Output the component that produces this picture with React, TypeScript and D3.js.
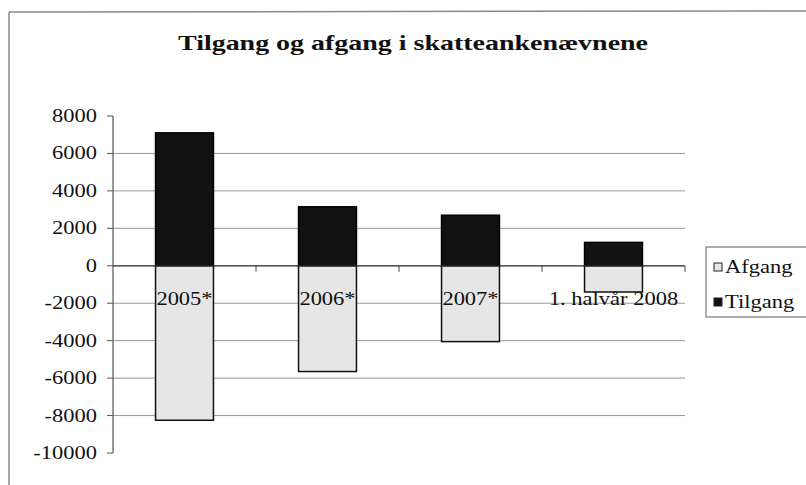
import React, { useRef, useEffect } from "react";
import * as d3 from "d3";

const categories = ["2005*", "2006*", "2007*", "1. halvår 2008"];
const tilgang = [7100, 3150, 2700, 1250];
const afgang = [-8250, -5650, -4050, -1400];
const yTicks = [-10000, -8000, -6000, -4000, -2000, 0, 2000, 4000, 6000, 8000];
const seriesNames = ["Afgang", "Tilgang"];
const title = "Tilgang og afgang i skatteankenævnene";

const App = () => {
  const chartRef = useRef<HTMLDivElement>(null);

  useEffect(() => {
    const width = 806;
    const height = 485;
    const font = "Liberation Serif, DejaVu Serif, Times New Roman, serif";
    const stretch = 1.25; // the scan is a bit wider than normal type

    d3.select(chartRef.current).selectAll("*").remove();

    const svg = d3
      .select(chartRef.current)
      .append("svg")
      .attr("width", width)
      .attr("height", height)
      .attr("font-family", font)
      .style("position", "absolute")
      .style("left", 0)
      .style("top", 0)
      .style("background", "#fff");

    // outer frame (only top and left are visible)
    svg.append("line").attr("x1", 9).attr("y1", 12).attr("x2", width).attr("y2", 11).attr("stroke", "#888").attr("stroke-width", 1.5);
    svg.append("line").attr("x1", 9).attr("y1", 12).attr("x2", 9).attr("y2", height).attr("stroke", "#888").attr("stroke-width", 1.5);

    // title
    svg
      .append("text")
      .attr("x", 178)
      .attr("y", 50)
      .attr("textLength", 470)
      .attr("lengthAdjust", "spacingAndGlyphs")
      .attr("font-family", font)
      .attr("font-weight", "bold")
      .attr("font-size", 21)
      .attr("fill", "#111")
      .text(title);

    const yScale = d3.scaleLinear().domain([-10000, 8000]).range([453, 116]);
    const xScale = d3.scaleBand().domain(categories).range([113, 685]).paddingInner(0.595).paddingOuter(0.2975);

    // gridlines
    svg
      .selectAll(".grid")
      .data(yTicks.filter((t) => t !== 0 && t !== 8000 && t !== -10000))
      .enter()
      .append("line")
      .attr("x1", 113)
      .attr("x2", 685)
      .attr("y1", (d) => yScale(d))
      .attr("y2", (d) => yScale(d))
      .attr("stroke", "#999")
      .attr("stroke-width", 1);

    // Tilgang bars
    svg
      .selectAll(".tilgang")
      .data(categories)
      .enter()
      .append("rect")
      .attr("x", (d) => xScale(d)!)
      .attr("y", (d, i) => yScale(tilgang[i]))
      .attr("width", xScale.bandwidth())
      .attr("height", (d, i) => yScale(0) - yScale(tilgang[i]))
      .attr("fill", "#121212")
      .attr("stroke", "#000")
      .attr("stroke-width", 1.5);

    // Afgang bars
    svg
      .selectAll(".afgang")
      .data(categories)
      .enter()
      .append("rect")
      .attr("x", (d) => xScale(d)!)
      .attr("y", yScale(0))
      .attr("width", xScale.bandwidth())
      .attr("height", (d, i) => yScale(afgang[i]) - yScale(0))
      .attr("fill", "#e6e6e6")
      .attr("stroke", "#111")
      .attr("stroke-width", 1.5);

    // x axis (zero line) and ticks between categories
    svg.append("line").attr("x1", 113).attr("x2", 685).attr("y1", yScale(0)).attr("y2", yScale(0)).attr("stroke", "#222").attr("stroke-width", 1.3);
    svg
      .selectAll(".xtick")
      .data(d3.range(1, categories.length + 1))
      .enter()
      .append("line")
      .attr("x1", (k) => 113 + k * xScale.step())
      .attr("x2", (k) => 113 + k * xScale.step())
      .attr("y1", yScale(0))
      .attr("y2", yScale(0) + 6)
      .attr("stroke", "#444");

    // category labels
    svg
      .selectAll(".xlabel")
      .data(categories)
      .enter()
      .append("text")
      .attr("transform", (d) => `translate(${xScale(d)! + xScale.bandwidth() / 2},305) scale(${stretch},1)`)
      .attr("text-anchor", "middle")
      .attr("font-size", 18)
      .attr("fill", "#111")
      .text((d) => d);

    // y axis
    svg.append("line").attr("x1", 113).attr("x2", 113).attr("y1", 116).attr("y2", 453).attr("stroke", "#555").attr("stroke-width", 1.2);
    svg
      .selectAll(".ytick")
      .data(yTicks)
      .enter()
      .append("line")
      .attr("x1", 107)
      .attr("x2", 113)
      .attr("y1", (d) => yScale(d))
      .attr("y2", (d) => yScale(d))
      .attr("stroke", "#555");
    svg
      .selectAll(".ylabel")
      .data(yTicks)
      .enter()
      .append("text")
      .attr("transform", (d) => `translate(97,${yScale(d) + 6}) scale(${stretch},1)`)
      .attr("text-anchor", "end")
      .attr("font-size", 18)
      .attr("fill", "#111")
      .text((d) => String(d));

    // legend
    const legend = svg.append("g");
    legend.append("rect").attr("x", 706).attr("y", 247).attr("width", 120).attr("height", 70).attr("fill", "#fff").attr("stroke", "#777").attr("stroke-width", 1.2);
    const swatchFill = ["#e6e6e6", "#121212"];
    seriesNames.forEach((name, i) => {
      const cy = 267 + i * 35;
      legend.append("rect").attr("x", 714).attr("y", cy - 4).attr("width", 8).attr("height", 8).attr("fill", swatchFill[i]).attr("stroke", "#222");
      legend
        .append("text")
        .attr("transform", `translate(725,${cy + 6}) scale(${stretch},1)`)
        .attr("font-size", 18)
        .attr("fill", "#111")
        .text(name);
    });
  }, []);

  return <div ref={chartRef}></div>;
};

export default App;
